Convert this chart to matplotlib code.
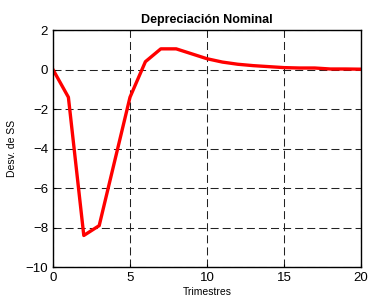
import matplotlib.pyplot as plt
import numpy as np

plt.rcParams['font.family'] = ['Liberation Sans', 'DejaVu Sans']

trimestres = list(range(21))
desv = [0, -1.4, -8.4, -7.9, -4.65, -1.4, 0.4, 1.05, 1.05, 0.8, 0.55,
        0.38, 0.27, 0.2, 0.15, 0.1, 0.08, 0.08, 0.03, 0.03, 0.02]

fig = plt.figure(figsize=(3.68, 3.07), dpi=100)
ax = fig.add_axes([0.144, 0.130, 0.837, 0.772])
ax.plot(trimestres, desv, color="red", linewidth=2.4)
ax.set_xlim(0, 20)
ax.set_ylim(-10, 2)
ax.set_xticks([0, 5, 10, 15, 20])
ax.set_yticks([-10, -8, -6, -4, -2, 0, 2])
ax.grid(True, color="#222222", linestyle=(0, (7.7, 3.9)), linewidth=0.75)
ax.tick_params(labelsize=9.5, direction="in", length=2)
ax.set_title("Depreciación Nominal", fontsize=9, fontweight="bold", pad=5)
ax.set_xlabel("Trimestres", fontsize=7.5, labelpad=2)
ax.set_ylabel("Desv. de SS", fontsize=7.5, labelpad=6)
for s in ax.spines.values():
    s.set_linewidth(1.0)

fig.savefig("out.png", dpi=100)
